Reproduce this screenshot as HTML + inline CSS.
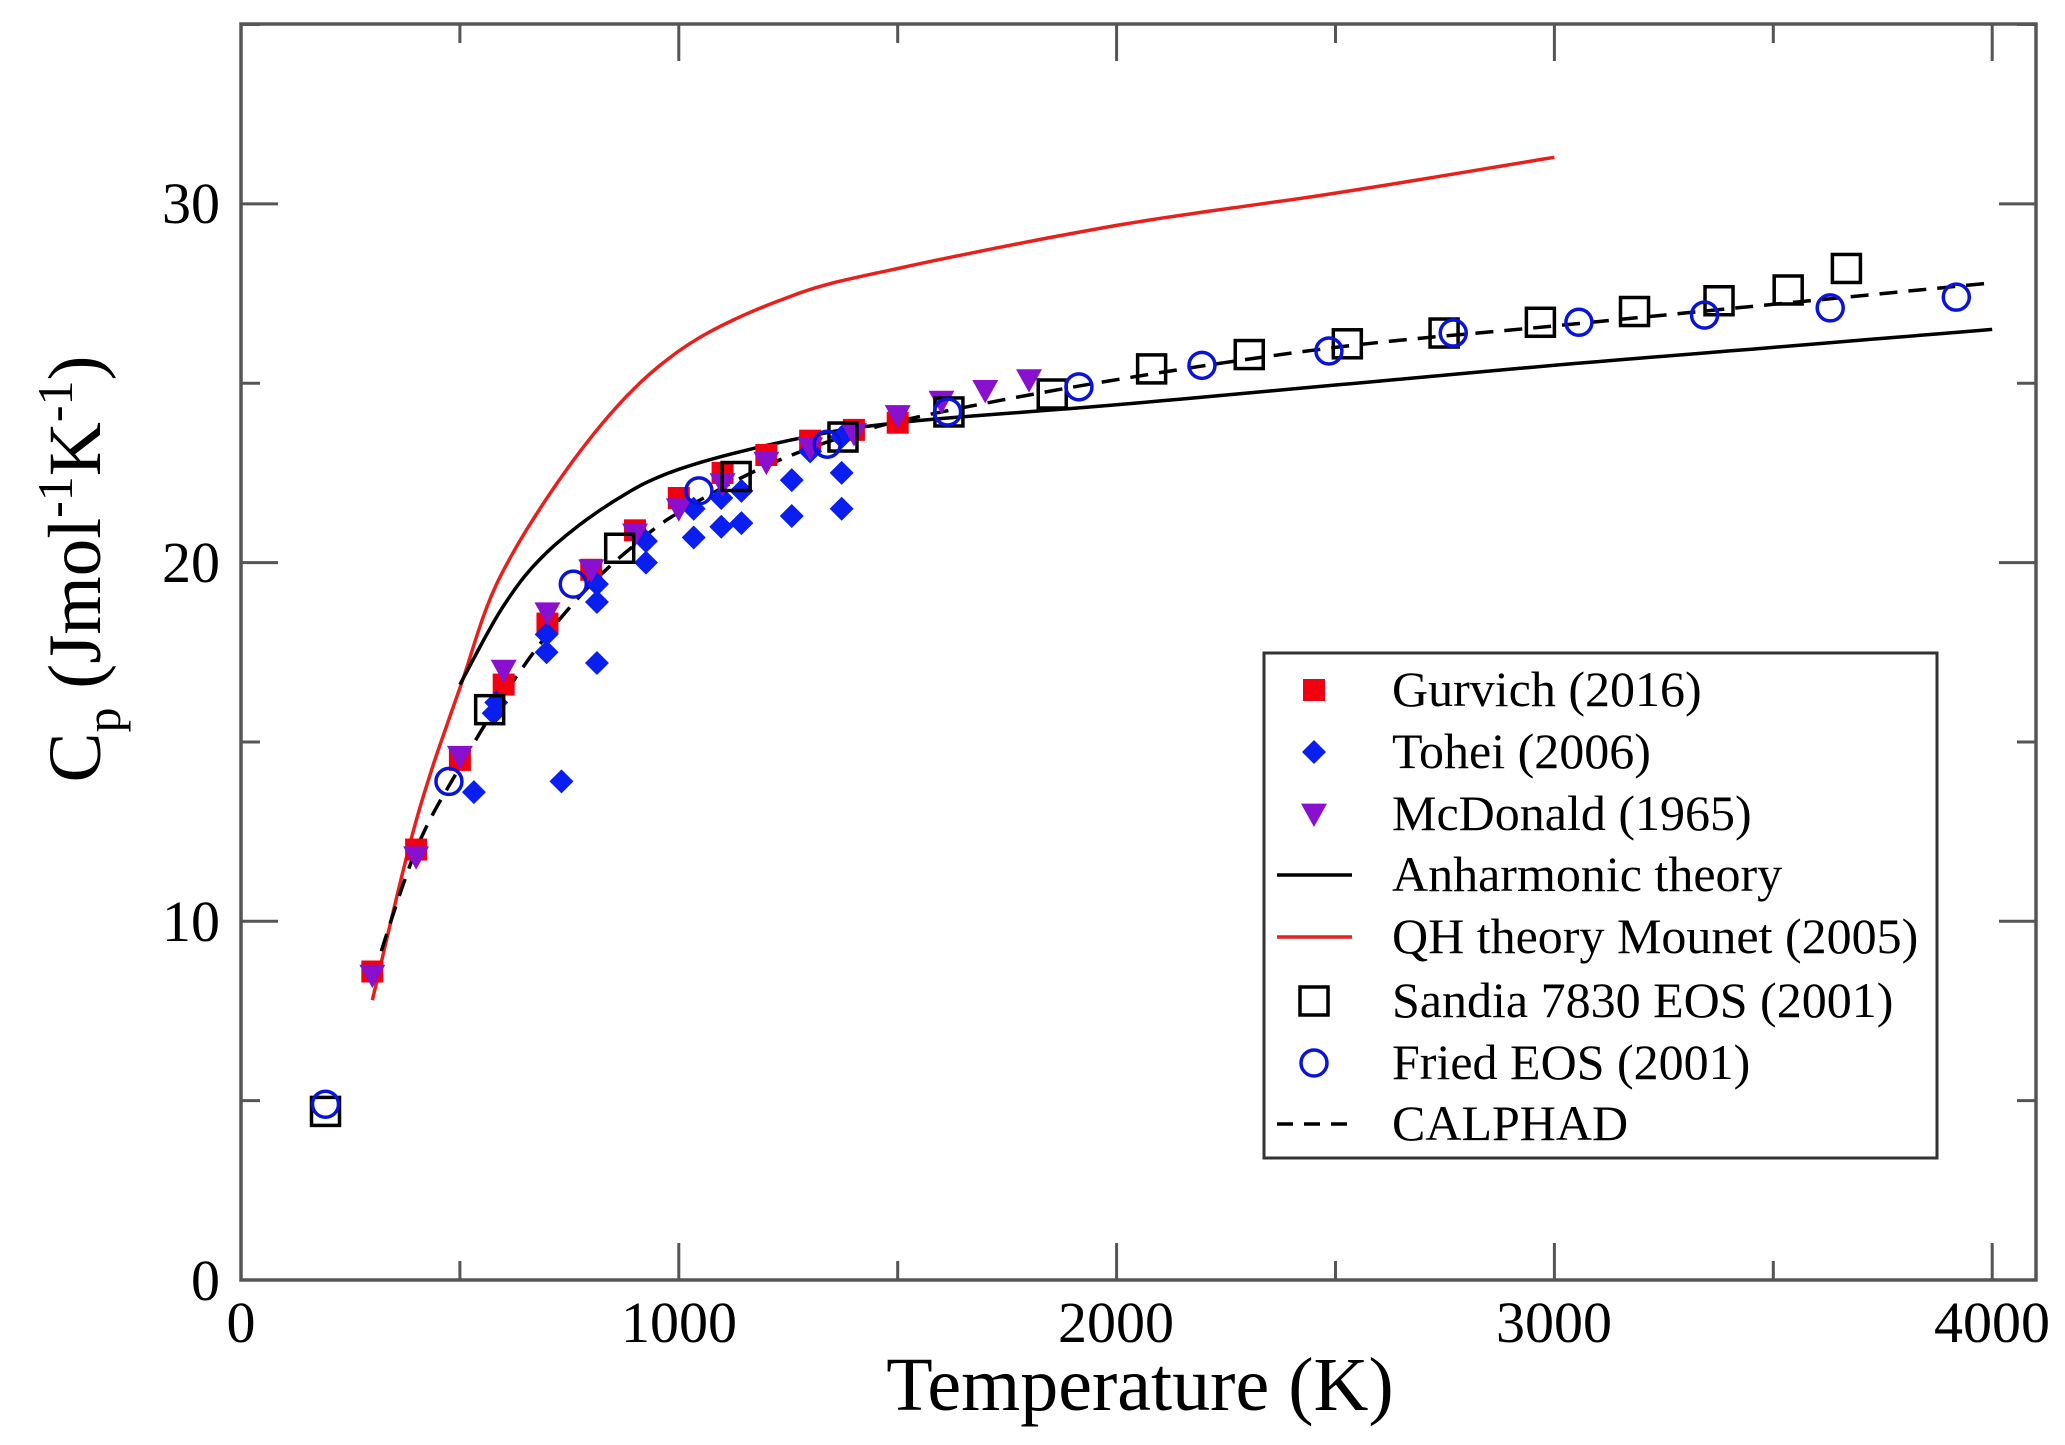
<!DOCTYPE html>
<html><head><meta charset="utf-8"><style>
html,body{margin:0;padding:0;background:#fff;}
svg{display:block;}
text{font-family:"Liberation Serif",serif;fill:#000;}
</style></head><body>
<svg id="s" width="2065" height="1445" viewBox="0 0 2065 1445" xmlns="http://www.w3.org/2000/svg">
<rect width="2065" height="1445" fill="#fff"/>
<g id="plot"></g>
<rect x="241" y="24" width="1795" height="1256" fill="none" stroke="#555" stroke-width="3.5"/>
<g id="ticks" stroke="#555" stroke-width="3"></g>
<g font-size="58" text-anchor="middle">
<text x="241" y="1342">0</text>
<text x="679" y="1342">1000</text>
<text x="1116" y="1342">2000</text>
<text x="1554" y="1342">3000</text>
<text x="1992" y="1342">4000</text>
</g>
<g font-size="58" text-anchor="end">
<text x="220" y="1300">0</text>
<text x="220" y="941">10</text>
<text x="220" y="582">20</text>
<text x="220" y="223">30</text>
</g>
<text x="1140" y="1410" font-size="76" text-anchor="middle">Temperature (K)</text>
<text transform="translate(100,569) rotate(-90)" font-size="75" text-anchor="middle">C<tspan font-size="50" dy="20">p</tspan><tspan dy="-20"> (Jmol</tspan><tspan font-size="50" dy="-28">-1</tspan><tspan dy="28">K</tspan><tspan font-size="50" dy="-28">-1</tspan><tspan dy="28">)</tspan></text>
<rect x="1264" y="653" width="673" height="505" fill="#fff" stroke="#333" stroke-width="3"/>
<g id="leg"></g>
<g font-size="50">
<text x="1392" y="706">Gurvich (2016)</text>
<text x="1392" y="768">Tohei (2006)</text>
<text x="1392" y="830">McDonald (1965)</text>
<text x="1392" y="891">Anharmonic theory</text>
<text x="1392" y="953">QH theory Mounet (2005)</text>
<text x="1392" y="1017">Sandia 7830 EOS (2001)</text>
<text x="1392" y="1079">Fried EOS (2001)</text>
<text x="1392" y="1140">CALPHAD</text>
</g>
</svg>
<script>
var NS="http://www.w3.org/2000/svg";
function X(t){return 241+t*0.4378;}
function Y(c){return 1280-c*35.87;}
function el(p,n,a){var e=document.createElementNS(NS,n);for(var k in a)e.setAttribute(k,a[k]);p.appendChild(e);return e;}
var P=document.getElementById('plot'),T=document.getElementById('ticks'),L=document.getElementById('leg');
for(var t=0;t<=4000;t+=500){var len=t%1000==0?37:19,x=X(t);
 el(T,'line',{x1:x,y1:1280,x2:x,y2:1280-len});el(T,'line',{x1:x,y1:24,x2:x,y2:24+len});}
for(var c=0;c<=35;c+=5){var len=c%10==0?37:19,y=Y(c);
 el(T,'line',{x1:241,y1:y,x2:241+len,y2:y});el(T,'line',{x1:2036,y1:y,x2:2036-len,y2:y});}
function smooth(pts){var d='';for(var i=0;i<pts.length;i++){var p=pts[i];d+=(i?'L':'M')+X(p[0]).toFixed(1)+','+Y(p[1]).toFixed(1);}return d;}
function interp(pts){
 var out=[];for(var i=0;i<pts.length-1;i++){var p0=pts[Math.max(0,i-1)],p1=pts[i],p2=pts[i+1],p3=pts[Math.min(pts.length-1,i+2)];
 for(var s=0;s<10;s++){var u=s/10,u2=u*u,u3=u2*u;
  var f=function(a,b,c,d){return 0.5*((2*b)+(-a+c)*u+(2*a-5*b+4*c-d)*u2+(-a+3*b-3*c+d)*u3);};
  out.push([f(p0[0],p1[0],p2[0],p3[0]),f(p0[1],p1[1],p2[1],p3[1])]);}}
 out.push(pts[pts.length-1]);return out;}
var red=[[300,7.8],[400,12.8],[500,16.5],[600,19.8],[800,23.5],[1000,25.9],[1250,27.4],[1500,28.2],[2000,29.4],[2500,30.3],[3000,31.3]];
var anh=[[500,16.6],[600,18.8],[700,20.3],[850,21.7],[1000,22.6],[1250,23.4],[1500,23.9],[2000,24.4],[2500,24.95],[3000,25.5],[3500,26.0],[4000,26.5]];
var cal=[[300,8.4],[400,12],[500,14.3],[600,16.3],[700,18],[800,19.4],[900,20.5],[1000,21.4],[1200,22.7],[1400,23.6],[1600,24.2],[2000,25.1],[2500,26],[3000,26.6],[3500,27.2],[4000,27.8]];
el(P,'path',{d:smooth(interp(red)),fill:'none',stroke:'#e8201c','stroke-width':3.5});
el(P,'path',{d:smooth(interp(anh)),fill:'none',stroke:'#000','stroke-width':3.5});
el(P,'path',{d:smooth(interp(cal)),fill:'none',stroke:'#000','stroke-width':3.5,'stroke-dasharray':'18,11'});
function sq(g,x,y,s,fill,stroke){el(g,'rect',{x:x-s/2,y:y-s/2,width:s,height:s,fill:fill,stroke:stroke||'none','stroke-width':3.5});}
function dia(g,x,y,s,fill){el(g,'polygon',{points:[x,y-s,x+s,y,x,y+s,x-s,y].join(' '),fill:fill});}
function tri(g,x,y,s,fill){el(g,'polygon',{points:[x-s,y-s*0.8,x+s,y-s*0.8,x,y+s].join(' '),fill:fill});}
function circ(g,x,y,r){el(g,'circle',{cx:x,cy:y,r:r,fill:'none',stroke:'#0a14d8','stroke-width':3.5});}
var gur=[[300,8.6],[400,12],[500,14.5],[600,16.6],[700,18.3],[800,19.8],[900,20.9],[1000,21.8],[1100,22.5],[1200,23.0],[1300,23.4],[1400,23.7],[1500,23.9]];
gur.forEach(function(p){sq(P,X(p[0]),Y(p[1]),22,'#f00010');});
var toh=[[532,13.6],[577,15.8],[583,16.1],[698,17.5],[698,18.0],[732,13.9],[813,17.2],[813,18.9],[813,19.4],[925,20.0],[925,20.6],[1034,20.7],[1034,21.5],[1097,21.0],[1097,21.8],[1143,21.1],[1143,22.0],[1258,21.3],[1258,22.3],[1300,23.1],[1372,21.5],[1372,22.5],[1372,23.5]];
toh.forEach(function(p){dia(P,X(p[0]),Y(p[1]),12,'#0a1ef0');});
var mcd=[[300,8.5],[400,11.8],[500,14.6],[600,17],[700,18.6],[800,19.8],[900,20.8],[1000,21.5],[1100,22.2],[1200,22.8],[1300,23.2],[1400,23.6],[1500,24.1],[1600,24.5],[1700,24.8],[1800,25.1]];
mcd.forEach(function(p){tri(P,X(p[0]),Y(p[1]),13,'#8a10d0');});
var san=[[193,4.7],[568,15.9],[865,20.4],[1131,22.4],[1375,23.5],[1617,24.2],[1853,24.7],[2080,25.4],[2303,25.8],[2527,26.1],[2748,26.4],[2968,26.7],[3183,27.0],[3376,27.3],[3534,27.6],[3667,28.2]];
san.forEach(function(p){sq(P,X(p[0]),Y(p[1]),28,'none','#000');});
var fri=[[193,4.9],[475,13.9],[759,19.4],[1046,22.0],[1339,23.3],[1614,24.2],[1914,24.9],[2195,25.5],[2485,25.9],[2769,26.4],[3056,26.7],[3343,26.9],[3630,27.1],[3918,27.4]];
fri.forEach(function(p){circ(P,X(p[0]),Y(p[1]),13);});
var lx=1314;
sq(L,lx,690,22,'#f00010');
dia(L,lx,752,12,'#0a1ef0');
tri(L,lx,814,13,'#8a10d0');
el(L,'line',{x1:1277,y1:875,x2:1352,y2:875,stroke:'#000','stroke-width':3.5});
el(L,'line',{x1:1277,y1:937,x2:1352,y2:937,stroke:'#e8201c','stroke-width':3.5});
sq(L,lx,1001,28,'none','#000');
circ(L,lx,1063,13);
el(L,'line',{x1:1277,y1:1124,x2:1352,y2:1124,stroke:'#000','stroke-width':3.5,'stroke-dasharray':'16,11'});
</script>
</body></html>
